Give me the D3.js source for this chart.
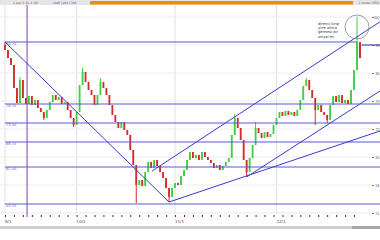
<!DOCTYPE html>
<html>
<head>
<meta charset="utf-8">
<script src="https://cdn.jsdelivr.net/npm/d3@7/dist/d3.min.js"></script>
<style>
body{margin:0;background:#fff;overflow:hidden}
svg{display:block;font-family:"DejaVu Sans",sans-serif}
</style>
</head>
<body>
<div class="chart"></div>
<script>
// kapanis fiyatlari (gunluk)
const closes=[91.75,89.75,88.0,82.25,78.5,84.25,79.75,78.25,80.25,78.0,
	79.25,77.25,76.25,74.75,76.75,78.75,80.5,79.25,80.0,78.25,
	78.75,76.75,74.75,73.0,76.25,83.0,86.25,83.75,81.75,80.5,
	78.0,80.5,83.75,82.25,80.5,78.0,75.5,73.75,72.25,73.75,
	71.75,70.5,66.75,63.0,58.0,59.25,57.75,61.25,63.75,62.25,
	64.25,62.75,61.25,59.75,57.25,55.0,57.25,58.5,58.0,60.25,
	61.75,64.25,66.25,64.75,65.5,64.25,66.25,65.0,64.25,63.5,
	62.25,63.0,61.75,62.75,63.75,64.75,70.5,74.75,72.25,69.25,
	64.25,61.25,64.75,68.0,72.25,71.0,69.75,71.25,70.0,70.75,
	73.0,74.75,76.25,75.25,76.5,75.5,76.25,75.25,76.75,79.25,
	82.75,84.25,81.75,79.75,76.75,78.0,76.25,75.5,74.25,78.0,
	80.25,78.75,80.5,78.5,79.25,78.25,81.75,86.75,93.75,89.75];
const firstOpen=93.0;
// uzun fitiller: [gun, yuksek, dusuk]
const wicks=[[0,93.75,null],[5,85.0,null],[13,null,74.25],[23,null,72.5],
	[26,87.25,null],[32,84.75,null],[44,null,53.5],[55,null,53.75],
	[77,75.75,null],[81,null,60.0],[84,73.75,null],[101,84.75,null],
	[104,null,73.0],[108,null,73.5],[118,100.0,null]];
// yatay destek/direnc seviyeleri
const levels=[93.75,78.25,73.5,68.75,62.5,53.25];
const levelEnds=[118,125.7,125.7,125.7,125.7,125.7];
// trend cizgileri [[gun,fiyat],[gun,fiyat]]
const trends=[
	[[0,93.75],[55,53.75]],
	[[55,53.75],[125.7,71.5]],
	[[81,60.0],[125.7,81.5]],
	[[49.3,61.5],[125.7,98.8]]
];
const lastMark=[119.5,125.7,93.0];
const priceTicks=[100,93,86,79,72,65,58,51];
const monthIdx=[0,24,57,91];
const monthLabels=["9/1","10/1","11/1","12/1"];
const markerDay=7.4;
const note=["direnci kırıp","yine altına","gelmesi bir","sinyal mi"];
const noteAt=[118,97.5];

var width=380,height=240;
var svg=d3.select('div.chart').append('svg')
	.attr('width',width).attr('height',height);

var x=d3.scaleLinear().domain([0,closes.length-1]).range([5,360]);
var y=d3.scaleLinear().domain([51.25,100]).range([212,17]);

svg.append('clipPath').attr('id','plot')
	.append('rect').attr('x',0).attr('y',5).attr('width',380).attr('height',209);

// ust arac cubugu
svg.append('rect').attr('x',0).attr('y',0).attr('width',380).attr('height',5).attr('fill','#e6e6e6');
svg.append('rect').attr('x',90).attr('y',1).attr('width',263).attr('height',3.5).attr('fill','#ee8a12');
svg.append('text').attr('x',13).attr('y',4).attr('font-size','3.2px').attr('fill','#555')
	.text('1 sec  1 4L  1 1M');
svg.append('text').attr('x',53).attr('y',4).attr('font-size','3.2px').attr('fill','#3344bb')
	.text('cndl | pnt | lnd');
svg.append('text').attr('x',379).attr('y',4).attr('font-size','3.2px').attr('fill','#666')
	.attr('text-anchor','end').text('1 mode: RED');

// izgara
let grid=svg.append('g');
grid.selectAll('line.v').data(monthIdx).enter().append('line')
	.attr('x1',d=>x(d)).attr('x2',d=>x(d)).attr('y1',5).attr('y2',214)
	.attr('stroke','#e2e2e2').attr('stroke-width',1);
grid.selectAll('line.h').data(priceTicks).enter().append('line')
	.attr('x1',0).attr('x2',372).attr('y1',d=>y(d)).attr('y2',d=>y(d))
	.attr('stroke','#ececec').attr('stroke-width',1);

// sag eksen
svg.append('g').attr('transform','translate(372,0)')
	.call(d3.axisRight(y).tickValues(priceTicks).tickSize(2).tickFormat(d=>d))
	.call(g=>g.select('.domain').remove())
	.call(g=>g.selectAll('line').attr('stroke','#777'))
	.call(g=>g.selectAll('text').attr('font-size','3.5px').attr('fill','#555')
		.attr('x',7.5).attr('text-anchor','end'));

// alt eksen
svg.append('g').attr('transform','translate(0,215)')
	.call(d3.axisBottom(x).tickValues(d3.range(0,closes.length,3)).tickSize(2).tickFormat(''))
	.call(g=>g.select('.domain').remove())
	.call(g=>g.selectAll('line').attr('stroke','#333'));
svg.append('g').selectAll('text').data(monthIdx).enter().append('text')
	.attr('x',d=>x(d)).attr('y',223).attr('font-size','4px').attr('fill','#444')
	.text((d,i)=>monthLabels[i]);

// mor dikey cizgi
svg.append('line').attr('x1',x(markerDay)).attr('x2',x(markerDay)).attr('y1',5).attr('y2',217)
	.attr('stroke','#8a3fa6').attr('stroke-width',1);

// mumlar
let candles=svg.append('g').attr('clip-path','url(#plot)');
let data=closes.map(function(c,i){
	let o=i==0?firstOpen:closes[i-1];
	let hi=Math.max(o,c),lo=Math.min(o,c);
	wicks.forEach(function(w){
		if(w[0]==i){
			if(w[1]!=null) hi=Math.max(hi,w[1]);
			if(w[2]!=null) lo=Math.min(lo,w[2]);
		}
	});
	return {i:i,o:o,c:c,hi:hi,lo:lo};
});
candles.selectAll('line').data(data).enter().append('line')
	.attr('x1',d=>x(d.i)).attr('x2',d=>x(d.i))
	.attr('y1',d=>y(d.hi)).attr('y2',d=>y(d.lo))
	.attr('stroke',d=>d.c>=d.o?'#3fcf3f':'#d42a2a').attr('stroke-width',1);
candles.selectAll('rect').data(data).enter().append('rect')
	.attr('x',d=>x(d.i)-0.9).attr('width',1.8)
	.attr('y',d=>y(Math.max(d.o,d.c)))
	.attr('height',d=>Math.max(1,Math.abs(y(d.o)-y(d.c))))
	.attr('fill',d=>d.c>=d.o?'#3fcf3f':'#d42a2a');

// yatay seviyeler
let lv=svg.append('g');
lv.selectAll('line').data(levels).enter().append('line')
	.attr('x1',x(0)).attr('x2',(d,i)=>x(levelEnds[i]))
	.attr('y1',d=>y(d)).attr('y2',d=>y(d))
	.attr('stroke','#5a5ad8').attr('stroke-width',1.2);
lv.selectAll('text').data(levels).enter().append('text')
	.attr('x',x(0)+1).attr('y',d=>y(d)+2.5)
	.attr('font-size','3.6px').attr('fill','#5a5ad8')
	.text(d=>d.toFixed(2));

// trend cizgileri
let tr=svg.append('g').attr('clip-path','url(#plot)');
tr.selectAll('line').data(trends).enter().append('line')
	.attr('x1',d=>x(d[0][0])).attr('y1',d=>y(d[0][1]))
	.attr('x2',d=>x(d[1][0])).attr('y2',d=>y(d[1][1]))
	.attr('stroke','#3a3acb').attr('stroke-width',1);
svg.append('line')
	.attr('x1',x(lastMark[0])).attr('x2',x(lastMark[1]))
	.attr('y1',y(lastMark[2])).attr('y2',y(lastMark[2]))
	.attr('stroke','#2a2a9a').attr('stroke-width',1);

// not ve daire
svg.append('circle').attr('cx',x(noteAt[0])).attr('cy',y(noteAt[1])).attr('r',12)
	.attr('fill','none').attr('stroke','#777').attr('stroke-width',0.7);
svg.append('g').selectAll('text').data(note).enter().append('text')
	.attr('x',318).attr('y',(d,i)=>25+i*4.2)
	.attr('font-size','3.6px').attr('fill','#333')
	.text(d=>d);

// alt kaydirma cubugu
svg.append('rect').attr('x',0).attr('y',226).attr('width',380).attr('height',3).attr('fill','#cfcfcf');
svg.append('rect').attr('x',352).attr('y',226).attr('width',28).attr('height',3).attr('fill','#a8a8a8');
</script>
</body>
</html>
